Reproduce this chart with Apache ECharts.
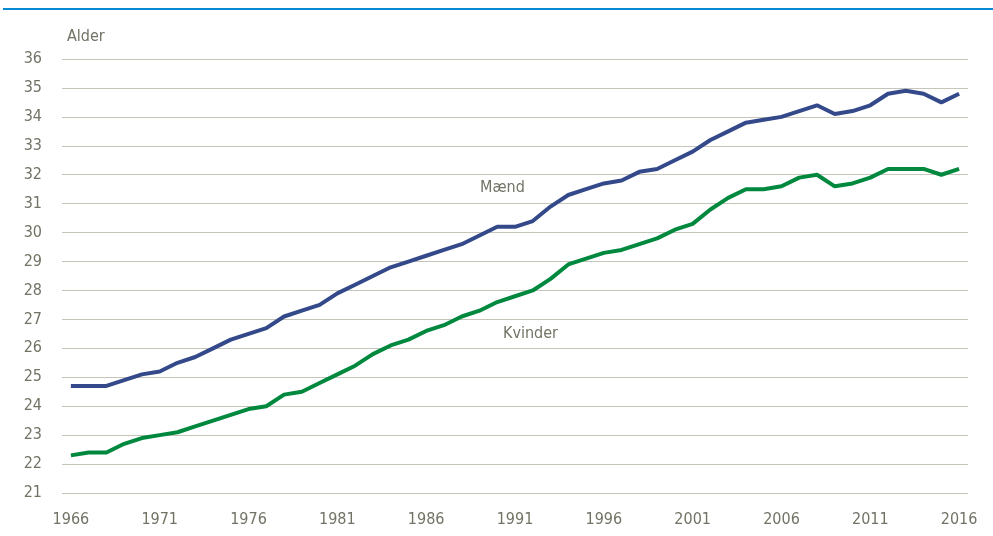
<!DOCTYPE html>
<html>
<head>
<meta charset="utf-8">
<script src="https://cdn.jsdelivr.net/npm/echarts@6/dist/echarts.min.js"></script>
<style>
  html, body { margin: 0; padding: 0; background: #fff; }
  #chart { width: 993px; height: 536px; }
</style>
</head>
<body>
<div id="chart"></div>
<script>
const years = [];
for (let y = 1966; y <= 2016; y++) years.push(String(y));

const maend = [24.7, 24.7, 24.7, 24.9, 25.1, 25.2, 25.5, 25.7, 26.0, 26.3,
  26.5, 26.7, 27.1, 27.3, 27.5, 27.9, 28.2, 28.5, 28.8, 29.0,
  29.2, 29.4, 29.6, 29.9, 30.2, 30.2, 30.4, 30.9, 31.3, 31.5,
  31.7, 31.8, 32.1, 32.2, 32.5, 32.8, 33.2, 33.5, 33.8, 33.9,
  34.0, 34.2, 34.4, 34.1, 34.2, 34.4, 34.8, 34.9, 34.8, 34.5, 34.8];

const kvinder = [22.3, 22.4, 22.4, 22.7, 22.9, 23.0, 23.1, 23.3, 23.5, 23.7,
  23.9, 24.0, 24.4, 24.5, 24.8, 25.1, 25.4, 25.8, 26.1, 26.3,
  26.6, 26.8, 27.1, 27.3, 27.6, 27.8, 28.0, 28.4, 28.9, 29.1,
  29.3, 29.4, 29.6, 29.8, 30.1, 30.3, 30.8, 31.2, 31.5, 31.5,
  31.6, 31.9, 32.0, 31.6, 31.7, 31.9, 32.2, 32.2, 32.2, 32.0, 32.2];

const textColor = '#727265';
const font = "'DejaVu Sans Condensed', 'Liberation Sans Narrow', sans-serif";

const chart = echarts.init(document.getElementById('chart'));
chart.setOption({
  animation: false,
  grid: { left: 62, right: 25, top: 59, bottom: 43 },
  graphic: [
    { type: 'rect', shape: { x: 3, y: 8, width: 990, height: 2 }, style: { fill: '#0a8ad2' } },
    { type: 'text', left: 67, top: 29, style: { text: 'Alder', fill: textColor, font: '16px ' + font } },
    { type: 'text', left: 480, top: 180, style: { text: 'Mænd', fill: textColor, font: '16px ' + font } },
    { type: 'text', left: 503, top: 326, style: { text: 'Kvinder', fill: textColor, font: '16px ' + font } }
  ],
  xAxis: {
    type: 'category',
    data: years,
    boundaryGap: true,
    axisLine: { show: false },
    axisTick: { show: false },
    axisLabel: { interval: 4, color: textColor, fontSize: 16, fontFamily: font, margin: 19 }
  },
  yAxis: {
    type: 'value',
    min: 21, max: 36, interval: 1,
    axisLine: { show: false },
    axisTick: { show: false },
    axisLabel: { color: textColor, fontSize: 16, fontFamily: font, margin: 20 },
    splitLine: { lineStyle: { color: '#c6c5b9', width: 1 } }
  },
  series: [
    { name: 'Mænd', type: 'line', data: maend, symbol: 'none',
      lineStyle: { color: '#34498a', width: 4 } },
    { name: 'Kvinder', type: 'line', data: kvinder, symbol: 'none',
      lineStyle: { color: '#00893e', width: 4 } }
  ]
});
</script>
</body>
</html>
